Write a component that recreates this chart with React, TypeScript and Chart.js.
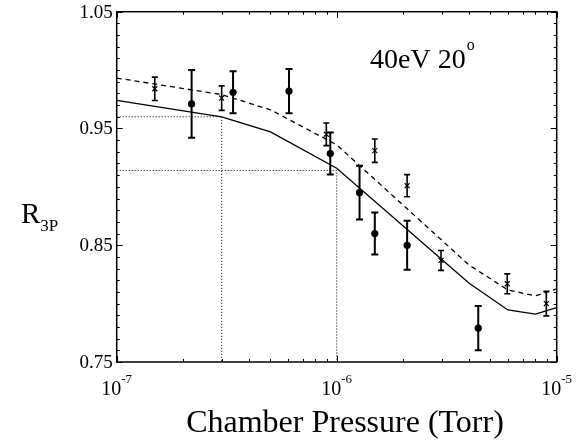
import React, { useEffect, useRef } from "react";
import { Chart, registerables } from "chart.js";

Chart.register(...registerables);

// Measured data (filled circles, solid model)
const circleX = [2.19e-7, 3.38e-7, 6.07e-7, 9.35e-7, 1.27e-6, 1.49e-6, 2.09e-6, 4.4e-6];
const circleY = [0.971, 0.981, 0.982, 0.9285, 0.895, 0.86, 0.85, 0.779];
const circleErr = [0.029, 0.018, 0.019, 0.018, 0.023, 0.018, 0.021, 0.019];

// Measured data (crosses, dashed model)
const crossX = [1.49e-7, 3.0e-7, 8.97e-7, 1.49e-6, 2.09e-6, 2.98e-6, 5.96e-6, 8.97e-6];
const crossY = [0.984, 0.976, 0.945, 0.931, 0.901, 0.837, 0.817, 0.8];
const crossErr = [0.01, 0.0105, 0.0097, 0.01, 0.0095, 0.0085, 0.0085, 0.0105];

// Model curves
const modelX = [1e-7, 3e-7, 5e-7, 1e-6, 4e-6, 6e-6, 8e-6, 1e-5];
const solidModel = [0.974, 0.96, 0.947, 0.916, 0.8175, 0.7946, 0.791, 0.7965];
const dashedModel = [0.9932, 0.979, 0.966, 0.936, 0.833, 0.8117, 0.8066, 0.8126];

// Dotted guide lines
const guide1X = [1e-7, 3e-7, 3e-7];
const guide1Y = [0.96, 0.96, 0.75];
const guide2X = [1e-7, 1e-6, 1e-6];
const guide2Y = [0.914, 0.914, 0.75];

// Axes
const xMin = 1e-7;
const xMax = 1e-5;
const yMin = 0.75;
const yMax = 1.05;
const yTickLabels = ["0.75", "0.85", "0.95", "1.05"];
const xTickExponents = ["-7", "-6", "-5"];
const xTitle = "Chamber Pressure (Torr)";
const annotation = "40eV 20";

const FONT = '"Liberation Serif", "Times New Roman", serif';

const zip = (xs: number[], ys: number[]) => xs.map((x, i) => ({ x, y: ys[i] }));

const decorPlugin = {
  id: "decor",
  afterDatasetsDraw(chart: any) {
    const ctx = chart.ctx;
    const xs = chart.scales.x;
    const ys = chart.scales.y;
    ctx.save();
    ctx.strokeStyle = "#000";
    const drawErr = (X: number[], Y: number[], E: number[], lw: number, cap: number) => {
      ctx.lineWidth = lw;
      X.forEach((x, i) => {
        const px = xs.getPixelForValue(x);
        const top = ys.getPixelForValue(Y[i] + E[i]);
        const bot = ys.getPixelForValue(Y[i] - E[i]);
        ctx.beginPath();
        ctx.moveTo(px, top);
        ctx.lineTo(px, bot);
        ctx.moveTo(px - cap, top);
        ctx.lineTo(px + cap, top);
        ctx.moveTo(px - cap, bot);
        ctx.lineTo(px + cap, bot);
        ctx.stroke();
      });
    };
    drawErr(circleX, circleY, circleErr, 2, 3.5);
    drawErr(crossX, crossY, crossErr, 1.6, 3);
    ctx.restore();
  },
  afterDraw(chart: any) {
    const ctx = chart.ctx;
    const xs = chart.scales.x;
    const ys = chart.scales.y;
    const a = chart.chartArea;
    ctx.save();
    ctx.strokeStyle = "#000";
    ctx.fillStyle = "#000";
    // frame
    ctx.lineWidth = 1.5;
    ctx.strokeRect(a.left, a.top, a.right - a.left, a.bottom - a.top);
    // y ticks
    ctx.lineWidth = 1;
    for (let k = 0; k <= 30; k++) {
      const v = yMin + k * 0.01;
      const py = Math.round(ys.getPixelForValue(v)) + 0.5;
      const len = k % 10 === 0 ? 6 : 3;
      ctx.beginPath();
      ctx.moveTo(a.left, py);
      ctx.lineTo(a.left + len, py);
      ctx.moveTo(a.right, py);
      ctx.lineTo(a.right - len, py);
      ctx.stroke();
    }
    // x ticks
    for (let e = -7; e < -5; e++) {
      for (let m = 1; m <= 10; m++) {
        const v = m * Math.pow(10, e);
        const px = Math.round(xs.getPixelForValue(v)) + 0.5;
        const len = m === 1 || m === 10 ? 6 : 3;
        ctx.beginPath();
        ctx.moveTo(px, a.bottom);
        ctx.lineTo(px, a.bottom - len);
        ctx.moveTo(px, a.top);
        ctx.lineTo(px, a.top + len);
        ctx.stroke();
      }
    }
    // y tick labels
    ctx.font = `19px ${FONT}`;
    ctx.textAlign = "right";
    ctx.textBaseline = "middle";
    yTickLabels.forEach((t) => {
      const py = ys.getPixelForValue(parseFloat(t));
      ctx.fillText(t, a.left - 4, py + 1);
    });
    // x tick labels
    xTickExponents.forEach((ex) => {
      const px = xs.getPixelForValue(Math.pow(10, parseFloat(ex)));
      ctx.font = `20px ${FONT}`;
      const w1 = ctx.measureText("10").width;
      ctx.font = `13px ${FONT}`;
      const w2 = ctx.measureText(ex).width;
      const start = px - (w1 + w2) / 2;
      ctx.textAlign = "left";
      ctx.textBaseline = "alphabetic";
      ctx.font = `20px ${FONT}`;
      ctx.fillText("10", start, a.bottom + 33);
      ctx.font = `13px ${FONT}`;
      ctx.fillText(ex, start + w1, a.bottom + 21);
    });
    // x title
    ctx.font = `32px ${FONT}`;
    ctx.textAlign = "center";
    ctx.fillText(xTitle, 345, 432);
    // y title R_3P
    ctx.textAlign = "left";
    ctx.font = `29px ${FONT}`;
    ctx.fillText("R", 21, 223);
    const rw = ctx.measureText("R").width;
    ctx.font = `17px ${FONT}`;
    ctx.fillText("3P", 21 + rw, 231);
    // annotation
    ctx.font = `28px ${FONT}`;
    ctx.fillText(annotation, 370, 68);
    const aw = ctx.measureText(annotation).width;
    ctx.font = `16px ${FONT}`;
    ctx.fillText("o", 370 + aw + 1, 50);
    ctx.restore();
  },
};

export default function App() {
  const ref = useRef<HTMLCanvasElement | null>(null);
  useEffect(() => {
    if (!ref.current) return;
    const chart = new Chart(ref.current, {
      type: "scatter",
      data: {
        datasets: [
          {
            label: "guide1",
            data: zip(guide1X, guide1Y),
            showLine: true,
            borderColor: "#000",
            borderWidth: 1,
            borderDash: [1, 2],
            pointRadius: 0,
          },
          {
            label: "guide2",
            data: zip(guide2X, guide2Y),
            showLine: true,
            borderColor: "#000",
            borderWidth: 1,
            borderDash: [1, 2],
            pointRadius: 0,
          },
          {
            label: "solid model",
            data: zip(modelX, solidModel),
            showLine: true,
            borderColor: "#000",
            borderWidth: 1.3,
            pointRadius: 0,
          },
          {
            label: "dashed model",
            data: zip(modelX, dashedModel),
            showLine: true,
            borderColor: "#000",
            borderWidth: 1.3,
            borderDash: [5, 4],
            pointRadius: 0,
          },
          {
            label: "circles",
            data: zip(circleX, circleY),
            showLine: false,
            pointStyle: "circle",
            pointRadius: 3.6,
            backgroundColor: "#000",
            borderColor: "#000",
            borderWidth: 0,
          },
          {
            label: "crosses",
            data: zip(crossX, crossY),
            showLine: false,
            pointStyle: "crossRot",
            pointRadius: 3.5,
            borderColor: "#000",
            borderWidth: 1.2,
          },
        ],
      },
      options: {
        animation: false,
        responsive: false,
        maintainAspectRatio: false,
        layout: { padding: { left: 116.7, right: 22.3, top: 11.7, bottom: 80 } },
        plugins: { legend: { display: false }, tooltip: { enabled: false } },
        scales: {
          x: { type: "logarithmic", min: xMin, max: xMax, display: false },
          y: { type: "linear", min: yMin, max: yMax, display: false },
        },
      },
      plugins: [decorPlugin],
    });
    return () => chart.destroy();
  }, []);
  return (
    <div style={{ position: "fixed", left: 0, top: 0, width: 579, height: 442, background: "#fff" }}>
      <canvas ref={ref} width={579} height={442} style={{ display: "block", width: 579, height: 442 }} />
    </div>
  );
}
